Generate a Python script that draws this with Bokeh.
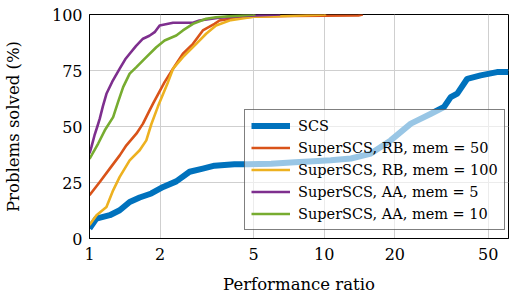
from bokeh.plotting import figure
from bokeh.models import Range1d, FixedTicker, BasicTickFormatter, Legend, LegendItem
from bokeh.embed import file_html
from bokeh.resources import INLINE

# Performance profiles: ratio (x, log) vs. percentage of problems solved (y)
scs_r = [1.0, 1.07, 1.22, 1.345, 1.483, 1.636, 1.834, 2.06, 2.343, 2.67, 3.04, 3.41,
         4.14, 4.73, 5.94, 7.5, 9.0, 10.67, 13.0, 15.8, 19.2, 23.4, 28.5, 32.4, 34.6,
         36.9, 40.7, 46.4, 54.5, 61.0]
scs_p = [4.5, 8.9, 10.4, 12.6, 16.3, 18.3, 20.1, 23.0, 25.5, 29.8, 31.2, 32.5,
         33.1, 33.1, 33.4, 34.0, 34.5, 34.9, 35.7, 37.9, 43.8, 51.3, 55.7, 58.7, 63.1,
         64.7, 71.3, 72.8, 74.3, 74.3]

rb50_r = [1.0, 1.106, 1.22, 1.345, 1.436, 1.584, 1.69, 1.803, 1.865, 2.089, 2.27, 2.5,
          2.76, 3.04, 3.41, 3.58, 4.2, 5.0, 7.0, 10.0, 14.0, 14.6]
rb50_p = [19.3, 25.2, 31.2, 37.1, 41.6, 46.8, 51.3, 57.2, 60.2, 69.8, 75.8, 82.5,
          86.9, 92.9, 95.8, 97.3, 98.5, 99.0, 99.3, 99.5, 99.6, 100.0]

rb100_r = [1.0, 1.071, 1.181, 1.261, 1.345, 1.483, 1.636, 1.746, 1.834, 1.958, 2.16, 2.27,
           2.5, 2.85, 3.14, 3.46, 4.0, 5.0, 7.0, 10.2]
rb100_p = [6.0, 10.4, 14.1, 21.5, 27.5, 34.9, 39.4, 43.8, 51.0, 59.0, 69.8, 75.8,
           81.0, 86.9, 91.4, 95.1, 97.5, 99.0, 99.3, 100.0]

aa5_r = [1.0, 1.02, 1.05, 1.08, 1.106, 1.14, 1.181, 1.25, 1.345, 1.42, 1.483, 1.58,
         1.69, 1.8, 1.895, 1.99, 2.27, 2.76, 2.94, 3.5, 4.5, 6.5]
aa5_p = [38.0, 41.0, 46.0, 50.0, 53.5, 59.0, 64.6, 70.0, 75.8, 80.0, 82.5, 86.0,
         89.2, 90.5, 92.1, 95.1, 96.3, 96.3, 97.3, 98.5, 99.3, 100.0]

aa10_r = [1.0, 1.089, 1.162, 1.261, 1.324, 1.391, 1.483, 1.584, 1.746, 1.926, 2.089,
          2.343, 2.5, 2.76, 3.14, 3.46, 4.2, 5.1]
aa10_p = [35.5, 42.4, 48.3, 54.2, 61.0, 67.6, 73.6, 76.5, 81.0, 85.4, 88.4,
          90.6, 92.9, 95.8, 98.1, 98.8, 99.4, 100.0]

x_ticks = [1, 2, 5, 10, 20, 50]
y_ticks = [0, 25, 50, 75, 100]

labels = ["SCS", "SuperSCS, RB, mem = 50", "SuperSCS, RB, mem = 100",
          "SuperSCS, AA, mem = 5", "SuperSCS, AA, mem = 10"]
colors = ["#0072BD", "#D95319", "#EDB120", "#7E2F8E", "#77AC30"]
widths = [6, 2.6, 2.6, 2.6, 2.6]

FONT = "DejaVu Serif"

p = figure(width=509, height=299, x_axis_type="log",
           x_range=Range1d(1, 61), y_range=Range1d(0, 100),
           output_backend="svg", toolbar_location=None,
           min_border_left=88, min_border_right=1,
           min_border_top=14, min_border_bottom=61)

p.outline_line_color = "black"
p.outline_line_width = 1
p.background_fill_color = "white"
p.border_fill_color = "white"

p.xaxis.ticker = FixedTicker(ticks=x_ticks, minor_ticks=[])
p.xaxis.formatter = BasicTickFormatter()
p.yaxis.ticker = FixedTicker(ticks=y_ticks, minor_ticks=[])

for ax in (p.xaxis[0], p.yaxis[0]):
    ax.axis_line_color = "black"
    ax.major_tick_in = 0
    ax.major_tick_out = 0
    ax.minor_tick_in = 0
    ax.minor_tick_out = 0
    ax.major_label_text_font = FONT
    ax.major_label_text_font_size = "16px"
    ax.major_label_text_color = "black"
    ax.axis_label_text_font = FONT
    ax.axis_label_text_font_size = "16.5px"
    ax.axis_label_text_font_style = "normal"
    ax.axis_label_text_color = "black"

p.xaxis.axis_label = "Performance ratio"
p.yaxis.axis_label = "Problems solved (%)"
p.xaxis.major_label_standoff = 9
p.xaxis.axis_label_standoff = 12
p.yaxis.major_label_standoff = 7
p.yaxis.axis_label_standoff = 26

p.xgrid.grid_line_color = "#cfcfcf"
p.ygrid.grid_line_color = "#cfcfcf"
p.xgrid.grid_line_width = 1
p.ygrid.grid_line_width = 1

series = [(scs_r, scs_p), (rb50_r, rb50_p), (rb100_r, rb100_p),
          (aa5_r, aa5_p), (aa10_r, aa10_p)]
items = []
for (r, pct), lab, col, w in zip(series, labels, colors, widths):
    rend = p.line(r, pct, line_color=col, line_width=w, line_join="round")
    items.append(LegendItem(label=lab, renderers=[rend]))

legend = Legend(items=items, location=(155, 8),
                background_fill_color="white", background_fill_alpha=0.6,
                border_line_color="black", border_line_width=1,
                label_text_font=FONT, label_text_font_size="14.5px",
                label_text_color="black",
                glyph_width=39, glyph_height=19, label_height=19, label_width=193,
                label_standoff=8, spacing=3, padding=6, margin=0)
p.add_layout(legend, "center")

open("out.html", "w").write(file_html(p, INLINE))
